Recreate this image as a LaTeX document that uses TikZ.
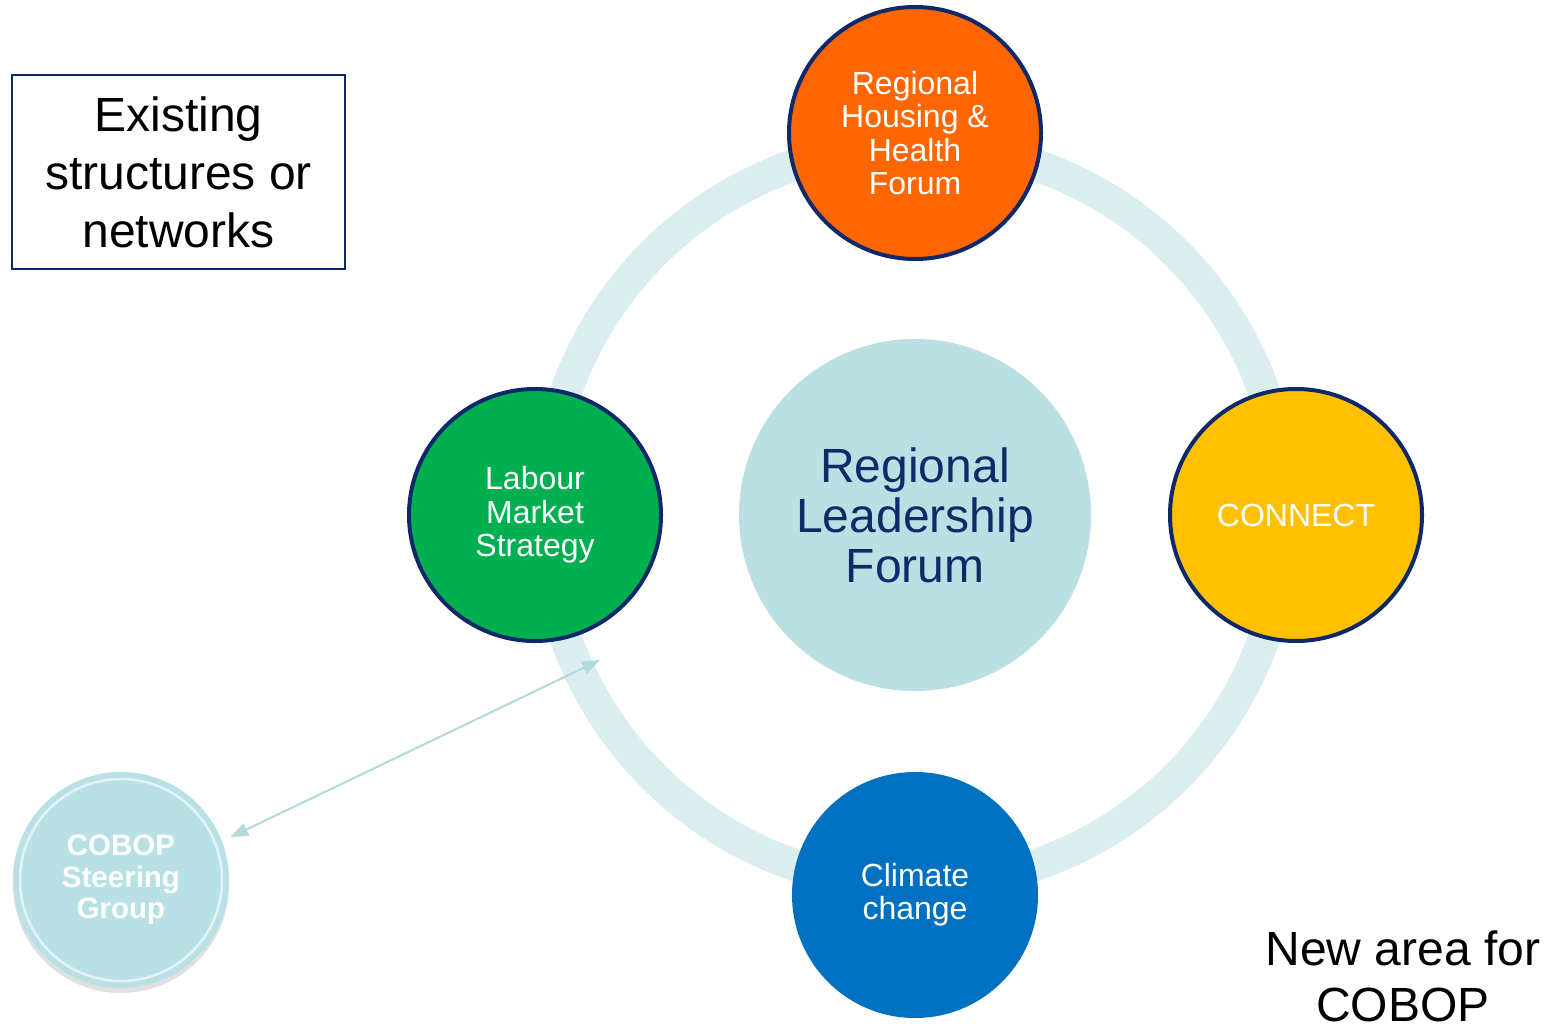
\documentclass[tikz,border=0pt]{standalone}
\usepackage{fontspec}
\setmainfont{Liberation Sans}
\usetikzlibrary{arrows.meta,shadows}
\definecolor{ringc}{RGB}{218,238,240}
\definecolor{centerc}{RGB}{186,224,227}
\definecolor{navy}{RGB}{14,40,104}
\definecolor{navytext}{RGB}{17,41,104}
\definecolor{orangec}{RGB}{255,102,0}
\definecolor{greenc}{RGB}{0,175,80}
\definecolor{yellowc}{RGB}{255,192,0}
\definecolor{bluec}{RGB}{0,112,192}
\definecolor{cobopc}{RGB}{185,224,228}
\definecolor{arrowc}{RGB}{178,218,222}
\tikzset{
  forum/.style={circle, draw=navy, line width=4pt, minimum size=252pt, inner sep=0pt,
    text=white, align=center, font=\fontsize{32}{33.3}\selectfont},
}
\begin{document}
\begin{tikzpicture}[x=1pt,y=-1pt]
\useasboundingbox (0,0) rectangle (1549,1027);
\fill[white] (0,0) rectangle (1549,1027);
% ring
\draw[ringc, line width=32pt] (915,515) circle[radius=370pt];
% center
\node[circle, fill=centerc, minimum size=352pt, inner sep=0pt, align=center,
  text=navytext, font=\fontsize{48}{50}\selectfont] (rlf) at (915,515) {Regional\\Leadership\\Forum};
% satellites
\node[forum, fill=orangec] (housing) at (915,133) {Regional\\Housing \&\\Health\\Forum};
\node[forum, fill=greenc] (labour) at (535,515) {Labour\\Market\\Strategy};
\node[forum, fill=yellowc] (connect) at (1296,515) {CONNECT};
\node[forum, fill=bluec, draw=none, minimum size=246pt] (climate) at (915,895) {Climate\\change};
% COBOP steering group
\node[circle, fill=cobopc, minimum size=216pt, inner sep=0pt, align=center, text=white,
  font=\bfseries\fontsize{29.5}{31.5}\selectfont,
  drop shadow={shadow xshift=0pt, shadow yshift=-5pt, fill=black!30, opacity=0.4}] (cobop) at (121,880) {COBOP\\Steering\\Group};
\draw[white, opacity=0.6, line width=2.5pt] (121,880) circle[radius=101pt];
% arrow
\coordinate (atip) at (600,660);
\draw[arrowc, line width=2pt, {Triangle[length=18pt,width=13pt]}-{Triangle[length=18pt,width=13pt]}, shorten <=9pt] (cobop.21) -- (atip);
% legend box
\node[draw=navy, line width=1.3pt, minimum width=333pt, minimum height=194pt, inner sep=0pt,
  align=center, font=\fontsize{48}{58}\selectfont] (box) at (178.5,172) {Existing\\structures or\\networks};
% new area
\node[align=center, font=\fontsize{48}{56}\selectfont, inner sep=0pt] (newarea) at (1403,976) {New area for\\COBOP};
\end{tikzpicture}
\end{document}
